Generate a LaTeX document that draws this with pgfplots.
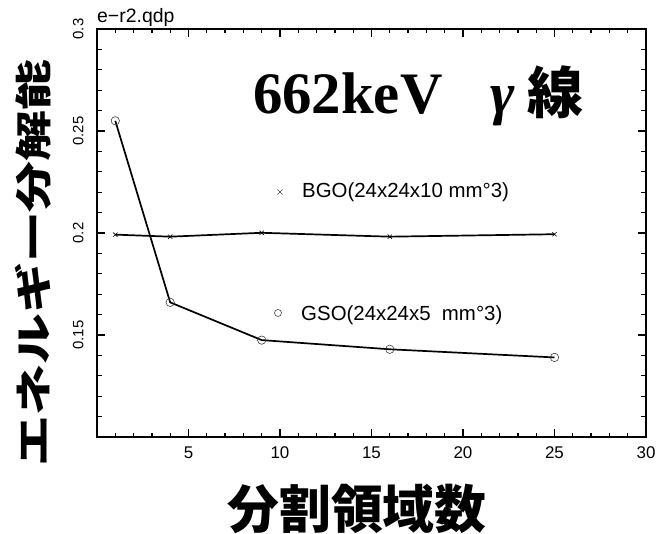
\documentclass[border=0pt]{standalone}
\usepackage{graphicx}
\usepackage{pgfplots}
\pgfplotsset{compat=1.18}
\usepackage{fontspec}
\setmainfont{Liberation Sans}
\newfontfamily\seriffont{Liberation Serif}
\newfontfamily\cjk{Noto Sans CJK JP}
\begin{document}
\begin{tikzpicture}
\useasboundingbox (-97bp,-97bp) rectangle (561bp,437bp);
\begin{axis}[
  scale only axis, width=549bp, height=408bp,
  xmin=0, xmax=30, ymin=0.1, ymax=0.3,
  xtick={5,10,15,20,25,30},
  ytick={0.15,0.2,0.25,0.3},
  yticklabels={0.15,0.2,0.25,0.3},
  major tick length=0pt, minor tick length=0pt,
  axis line style={line width=2bp},
  /pgf/number format/assume math mode=true,
  xticklabel style={font=\fontsize{17}{17}\selectfont, yshift=-6bp},
  yticklabel style={font=\fontsize{15}{15}\selectfont, xshift=-10bp, rotate=90, anchor=south},
  xlabel={\cjk\bfseries\fontsize{52}{52}\selectfont 分割領域数},
  ylabel={\scalebox{1.38}[1]{\cjk\bfseries\fontsize{37}{37}\selectfont エネルギー分解能}},
  x label style={at={(axis description cs:0.4736,-0.176)}, anchor=center},
  y label style={at={(axis description cs:-0.1166,0.4265)}, anchor=center},
  clip=false,
  tk/.style={black, line width=1.3bp, no markers, forget plot},
]
% tick marks drawn inside the frame
\pgfplotsinvokeforeach{1,2,3,4,6,7,8,9,11,12,13,14,16,17,18,19,21,22,23,24,26,27,28,29}{
  \addplot[tk] coordinates {(#1,0.1)(#1,0.1022)};
  \addplot[tk] coordinates {(#1,0.3)(#1,0.2978)};
}
\pgfplotsinvokeforeach{5,10,15,20,25}{
  \addplot[tk] coordinates {(#1,0.1)(#1,0.1039)};
  \addplot[tk] coordinates {(#1,0.3)(#1,0.2961)};
}
\pgfplotsinvokeforeach{0.11,0.12,0.13,0.14,0.16,0.17,0.18,0.19,0.21,0.22,0.23,0.24,0.26,0.27,0.28,0.29}{
  \addplot[tk] coordinates {(0,#1)(0.25,#1)};
  \addplot[tk] coordinates {(30,#1)(29.75,#1)};
}
\pgfplotsinvokeforeach{0.15,0.2,0.25}{
  \addplot[tk] coordinates {(0,#1)(0.44,#1)};
  \addplot[tk] coordinates {(30,#1)(29.56,#1)};
}
% data
\addplot[black, line width=1.7bp, mark=o, mark size=4.2bp, mark options={line width=0.6bp, draw=black!75}]
  coordinates {(1,0.255)(4,0.166)(9,0.1475)(16,0.143)(25,0.139)};
\addplot[black, line width=1.7bp, mark=x, mark size=3bp, mark options={line width=0.6bp}]
  coordinates {(1,0.1992)(4,0.1982)(9,0.2001)(16,0.1982)(25,0.1994)};
\addplot[only marks, mark=x, mark size=3.5bp, mark options={line width=0.6bp, draw=black!75}]
  coordinates {(10,0.2201)};
\addplot[only marks, mark=o, mark size=3.5bp, mark options={line width=0.6bp, draw=black!75}]
  coordinates {(9.89,0.1608)};
\node[anchor=west, inner sep=0, font=\fontsize{20.5}{20.5}\selectfont] at (axis cs:11.2,0.22) {BGO(24x24x10 mm°3)};
\node[anchor=west, inner sep=0, font=\fontsize{20.5}{20.5}\selectfont] at (axis cs:11.15,0.1598) {GSO(24x24x5\ \ mm°3)};
\node[anchor=base west, inner sep=0, font=\seriffont\bfseries\fontsize{59}{59}\selectfont] at (axis cs:8.52,0.2588) {662keV};
\node[anchor=base west, inner sep=0, font=\seriffont\bfseries\itshape\fontsize{59}{59}\selectfont] at (axis cs:21.48,0.2588) {γ};
\node[anchor=base west, inner sep=0, font=\cjk\bfseries\fontsize{56}{56}\selectfont] at (axis cs:23.5,0.2588) {線};
\node[anchor=base west, inner sep=0, font=\fontsize{19.5}{19.5}\selectfont] at (axis description cs:0,1.017) {e−r2.qdp};
\end{axis}
\end{tikzpicture}
\end{document}
